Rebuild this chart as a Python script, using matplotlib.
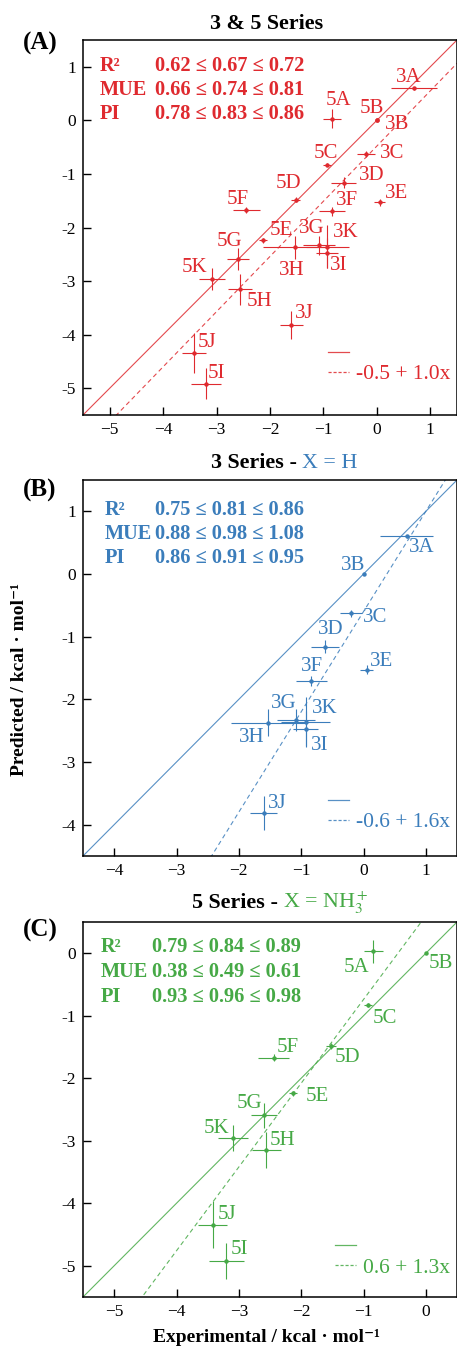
import matplotlib
matplotlib.use("Agg")
import matplotlib.pyplot as plt
from matplotlib.lines import Line2D
from matplotlib.ticker import FuncFormatter
import numpy as np

plt.rcParams['font.family'] = ['Liberation Serif', 'DejaVu Serif']
plt.rcParams['mathtext.fontset'] = 'stix'

# ---- data ----
# 3 series (X = H)
s3_names = ['3A', '3B', '3C', '3D', '3E', '3F', '3G', '3H', '3I', '3J', '3K']
s3_exp = [0.69, 0.0, -0.20, -0.62, 0.05, -0.84, -1.08, -1.53, -0.93, -1.60, -0.93]
s3_pred = [0.60, 0.0, -0.63, -1.16, -1.53, -1.70, -2.33, -2.37, -2.47, -3.82, -2.36]
s3_xerr = [0.43, 0.0, 0.17, 0.23, 0.10, 0.25, 0.30, 0.60, 0.20, 0.22, 0.40]
s3_yerr = [0.03, 0.0, 0.05, 0.10, 0.07, 0.08, 0.18, 0.22, 0.28, 0.27, 0.40]

# 5 series (X = NH3+)
s5_names = ['5A', '5B', '5C', '5D', '5E', '5F', '5G', '5H', '5I', '5J', '5K']
s5_exp = [-0.84, 0.0, -0.93, -1.52, -2.13, -2.44, -2.60, -2.56, -3.20, -3.42, -3.09]
s5_pred = [0.03, 0.0, -0.83, -1.48, -2.24, -1.67, -2.59, -3.15, -4.92, -4.34, -2.96]
s5_xerr = [0.16, 0.0, 0.07, 0.08, 0.07, 0.25, 0.21, 0.23, 0.28, 0.23, 0.24]
s5_yerr = [0.18, 0.0, 0.03, 0.05, 0.04, 0.06, 0.20, 0.29, 0.29, 0.38, 0.21]

# fitted lines (intercept, slope) and legend text
fit_all = (-0.48, 1.03)
fit_3 = (-0.60, 1.60)
fit_5 = (0.60, 1.34)
fit_labels = ['-0.5 + 1.0x', '-0.6 + 1.6x', '0.6 + 1.3x']

stats_names = ['R²', 'MUE', 'PI']
stats_all = ['0.62 ≤ 0.67 ≤ 0.72', '0.66 ≤ 0.74 ≤ 0.81', '0.78 ≤ 0.83 ≤ 0.86']
stats_3 = ['0.75 ≤ 0.81 ≤ 0.86', '0.88 ≤ 0.98 ≤ 1.08', '0.86 ≤ 0.91 ≤ 0.95']
stats_5 = ['0.79 ≤ 0.84 ≤ 0.89', '0.38 ≤ 0.49 ≤ 0.61', '0.93 ≤ 0.96 ≤ 0.98']

RED = '#df2a2f'
BLUE = '#3b7dbb'
GREEN = '#46a946'

# label offsets (pixels) for each point label
offs_A = {'3A': (-5, 11), '5A': (7, 18), '5B': (-5, 12), '3B': (20, -4), '3C': (26, 1),
          '5C': (-1, 11), '3D': (28, 7), '5D': (-7, 16), '3E': (17, 9), '3F': (15, 11),
          '5F': (-9, 10), '5E': (18, 10), '3G': (-7, 17), '3K': (19, 14), '3H': (-3, -23),
          '3I': (12, -13), '5G': (-8, 18), '5K': (-17, 11), '5H': (19, -12), '3J': (13, 11),
          '5J': (13, 10), '5I': (11, 10)}
offs_B = {'3A': (15, -11), '3B': (-10, 9), '3C': (24, -4), '3D': (6, 17), '3E': (15, 8),
          '3F': (1, 14), '3G': (-12, 17), '3K': (19, 13), '3H': (-16, -15), '3I': (14, -17),
          '3J': (13, 10)}
offs_C = {'5A': (-17, -16), '5B': (15, -10), '5C': (17, -13), '5D': (16, -12), '5E': (24, -3),
          '5F': (14, 10), '5G': (-14, 12), '5K': (-17, 10), '5H': (16, 10), '5J': (14, 10),
          '5I': (13, 11)}

W, H = 457, 1350
fig = plt.figure(figsize=(W / 100, H / 100), dpi=100)


def add_axes(top_px, bot_px):
    return fig.add_axes([83 / W, 1 - bot_px / H, (W - 83) / W, (bot_px - top_px) / H])


def draw_points(ax, names, xs, ys, xe, ye, color, offs):
    ax.errorbar(xs, ys, xerr=xe, yerr=ye, fmt='o', ms=2.2, color=color, ecolor=color,
                elinewidth=0.8, capsize=0, zorder=3)
    for n, x, y in zip(names, xs, ys):
        dx, dy = offs[n]
        ax.annotate(n, (x, y), xytext=(dx, dy), textcoords='offset pixels',
                    ha='center', va='center', fontsize=15, color=color)


def draw_lines(ax, lim, fit, color, label, leg_y):
    xx = np.array(lim)
    ax.plot(xx, xx, color=color, lw=0.8, alpha=0.85, zorder=2)
    ax.plot(xx, fit[0] + fit[1] * xx, color=color, lw=0.8, alpha=0.85, ls=(0, (4, 3)), zorder=2)
    h1 = Line2D([], [], color=color, lw=0.9, alpha=0.85)
    h2 = Line2D([], [], color=color, lw=0.9, alpha=0.85, ls=(0, (2.5, 1.5)))
    ax.legend([h1, h2], ['', label], loc='lower right', frameon=False, fontsize=15.5,
              handlelength=1.0, handletextpad=0.3, labelspacing=0.0,
              borderaxespad=0, bbox_to_anchor=(1.004, leg_y), labelcolor=color)


def style_axes(ax, lim, ticks):
    ax.set_xlim(lim)
    ax.set_ylim(lim)
    ax.set_xticks(ticks)
    ax.set_yticks(ticks)
    ax.yaxis.set_major_formatter(FuncFormatter(lambda v, p: f"{v:g}"))
    ax.tick_params(direction='in', length=6, width=1, labelsize=12.5, pad=5)
    for s in ['left', 'bottom', 'top', 'right']:
        ax.spines[s].set_linewidth(1.1)


def draw_stats(px_left, px_num, rows_px, values, color):
    for name, val, yp in zip(stats_names, values, rows_px):
        fig.text(px_left / W, 1 - yp / H, name, color=color, fontsize=14.7,
                 fontweight='bold', va='center', ha='left')
        fig.text(px_num / W, 1 - yp / H, val, color=color, fontsize=14.7,
                 fontweight='bold', va='center', ha='left')


def rich_text(x_px, y_px, parts):
    r = fig.canvas.get_renderer()
    x = x_px
    for txt, kw in parts:
        t = fig.text(x / W, 1 - y_px / H, txt, va='baseline', ha='left', **kw)
        bb = t.get_window_extent(renderer=r)
        x += bb.width


# ---- panel A ----
axA = add_axes(40, 415)
limA = (-5.5, 1.5)
style_axes(axA, limA, range(-5, 2))
draw_lines(axA, limA, fit_all, RED, fit_labels[0], 0.059)
draw_points(axA, s3_names, s3_exp, s3_pred, s3_xerr, s3_yerr, RED, offs_A)
draw_points(axA, s5_names, s5_exp, s5_pred, s5_xerr, s5_yerr, RED, offs_A)
draw_stats(100, 155, [66, 90, 114], stats_all, RED)
fig.text(267 / W, 1 - 29 / H, '3 & 5 Series', ha='center', va='baseline',
         fontsize=15.8, fontweight='bold')
fig.text(40 / W, 1 - 43 / H, '(A)', ha='center', va='center', fontsize=18, fontweight='bold')

# ---- panel B ----
axB = add_axes(480, 856)
limB = (-4.5, 1.5)
style_axes(axB, limB, range(-4, 2))
draw_lines(axB, limB, fit_3, BLUE, fit_labels[1], 0.04)
draw_points(axB, s3_names, s3_exp, s3_pred, s3_xerr, s3_yerr, BLUE, offs_B)
draw_stats(105, 155, [510, 534, 558], stats_3, BLUE)
rich_text(211, 468, [('3 Series', dict(fontsize=15.8, fontweight='bold')),
                     (' - ', dict(fontsize=15.8)),
                     ('X = H', dict(fontsize=15.8, color=BLUE))])
fig.text(40 / W, 1 - 490 / H, '(B)', ha='center', va='center', fontsize=18, fontweight='bold')

# ---- panel C ----
axC = add_axes(922, 1297)
limC = (-5.5, 0.5)
style_axes(axC, limC, range(-5, 1))
draw_lines(axC, limC, fit_5, GREEN, fit_labels[2], 0.029)
draw_points(axC, s5_names, s5_exp, s5_pred, s5_xerr, s5_yerr, GREEN, offs_C)
draw_stats(101, 152, [947, 972, 997], stats_5, GREEN)
rich_text(192, 908, [('5 Series', dict(fontsize=15.8, fontweight='bold')),
                     (' - ', dict(fontsize=15.8)),
                     ('X = NH$_3^+$', dict(fontsize=15.8, color=GREEN))])
fig.text(40 / W, 1 - 930 / H, '(C)', ha='center', va='center', fontsize=18, fontweight='bold')

# axis titles
fig.text(20 / W, 1 - 680 / H, 'Predicted / kcal · mol⁻¹', rotation=90, ha='center',
         va='center', fontsize=14, fontweight='bold')
fig.text(266 / W, 1 - 1338 / H, 'Experimental / kcal · mol⁻¹', ha='center',
         va='center', fontsize=14, fontweight='bold')

fig.savefig('out.png', dpi=100)
